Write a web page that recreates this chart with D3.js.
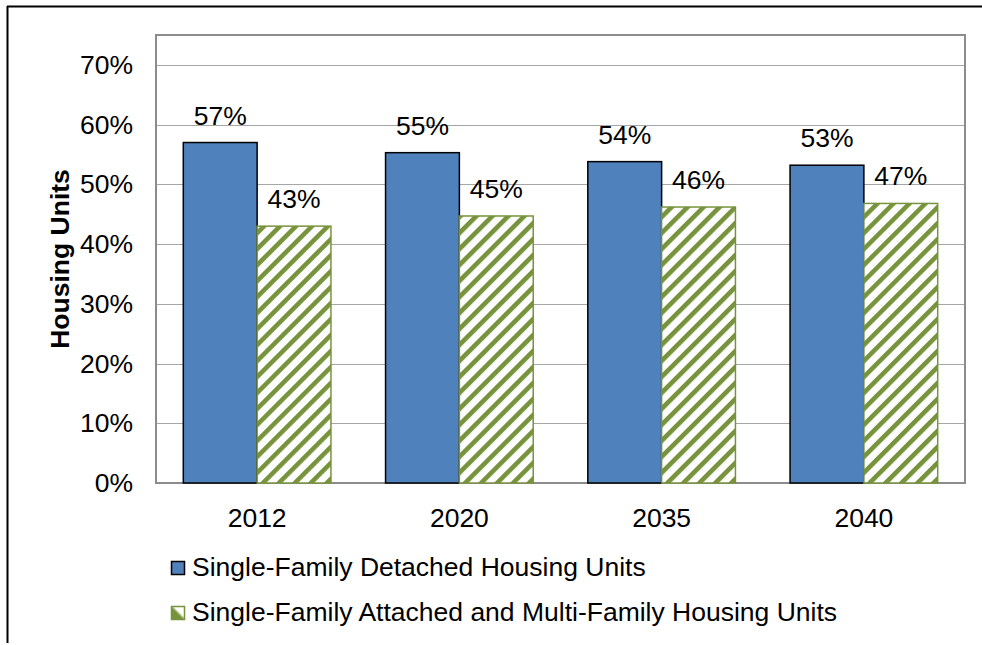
<!DOCTYPE html>
<html>
<head>
<meta charset="utf-8">
<script src="https://cdn.jsdelivr.net/npm/d3@7"></script>
<style>
  html, body { margin: 0; padding: 0; background: #fff; }
  svg { display: block; font-family: "Liberation Sans", Arial, sans-serif; }
</style>
</head>
<body>
<svg id="chart" width="982" height="645"></svg>
<script>
// Share of housing units by type, by year
const years = ["2012", "2020", "2035", "2040"];
const detached = [0.570, 0.553, 0.538, 0.532];
const attachedMulti = [0.430, 0.447, 0.462, 0.468];
const seriesNames = [
  "Single-Family Detached Housing Units",
  "Single-Family Attached and Multi-Family Housing Units"
];
const yTicks = [0, 0.1, 0.2, 0.3, 0.4, 0.5, 0.6, 0.7];

const svg = d3.select("#chart");
const W = 982, H = 645;
const plot = { left: 156, top: 35, right: 965, bottom: 483 };
const FS = 26.5;

const blue = "#4F81BD";
const green = "#77933C";

// diagonal hatch for the second series
const defs = svg.append("defs");
const pat = defs.append("pattern")
  .attr("id", "hatch")
  .attr("patternUnits", "userSpaceOnUse")
  .attr("width", 11.3).attr("height", 11.3)
  .attr("patternTransform", "rotate(45)");
pat.append("rect").attr("width", 11.3).attr("height", 11.3).attr("fill", "#fff");
pat.append("rect").attr("x", 0).attr("width", 4.6).attr("height", 11.3).attr("fill", green);

// soft diagonal fill used by the legend swatch
const grad = defs.append("linearGradient")
  .attr("id", "swatchGrad")
  .attr("x1", 0).attr("y1", 1).attr("x2", 1).attr("y2", 0);
grad.append("stop").attr("offset", "0%").attr("stop-color", green);
grad.append("stop").attr("offset", "45%").attr("stop-color", green);
grad.append("stop").attr("offset", "60%").attr("stop-color", "#fff");
grad.append("stop").attr("offset", "100%").attr("stop-color", "#fff");

// outer frame (top and left edges)
svg.append("line").attr("x1", 7).attr("y1", 6.5).attr("x2", W).attr("y2", 6.5)
  .attr("stroke", "#000").attr("stroke-width", 2);
svg.append("line").attr("x1", 7.5).attr("y1", 6).attr("x2", 7.5).attr("y2", 643)
  .attr("stroke", "#000").attr("stroke-width", 2);

const x0 = d3.scaleBand().domain(years).range([plot.left, plot.right]).paddingInner(0.27).paddingOuter(0.135);
const x1 = d3.scaleBand().domain([0, 1]).range([0, x0.bandwidth()]);
const y = d3.scaleLinear().domain([0, 0.75]).range([plot.bottom, plot.top]);

// gridlines
svg.append("g").selectAll("line").data(yTicks.slice(1)).join("line")
  .attr("x1", plot.left).attr("x2", plot.right)
  .attr("y1", d => Math.round(y(d)) + 0.5).attr("y2", d => Math.round(y(d)) + 0.5)
  .attr("stroke", "#A6A6A6").attr("stroke-width", 1);

// plot area border
svg.append("rect")
  .attr("x", plot.left).attr("y", plot.top)
  .attr("width", plot.right - plot.left).attr("height", plot.bottom - plot.top)
  .attr("fill", "none").attr("stroke", "#8C8C8C").attr("stroke-width", 2);

// y axis labels
const yAxis = d3.axisLeft(y).tickValues(yTicks).tickFormat(d3.format(".0%")).tickSize(0).tickPadding(23);
const gy = svg.append("g").attr("transform", `translate(${plot.left},0)`).call(yAxis);
gy.select(".domain").remove();
gy.selectAll("text").attr("font-size", FS).attr("fill", "#000")
  .attr("font-family", "Liberation Sans, Arial, sans-serif");

// x axis labels
const xAxis = d3.axisBottom(x0).tickSize(0).tickPadding(0);
const gx = svg.append("g").attr("transform", `translate(0,${plot.bottom})`).call(xAxis);
gx.select(".domain").remove();
gx.selectAll("text").attr("font-size", FS).attr("fill", "#000")
  .attr("font-family", "Liberation Sans, Arial, sans-serif")
  .attr("dy", null).attr("y", 44);

// axis title
svg.append("text")
  .attr("transform", `translate(69,${(plot.top + plot.bottom) / 2}) rotate(-90)`)
  .attr("text-anchor", "middle")
  .attr("font-size", 26.5).attr("font-weight", "bold")
  .text("Housing Units");

// bars
const rows = years.map((yr, i) => ({ yr, vals: [detached[i], attachedMulti[i]] }));
const groups = svg.append("g").selectAll("g").data(rows).join("g")
  .attr("transform", d => `translate(${x0(d.yr)},0)`);

groups.selectAll("rect").data(d => d.vals.map((v, k) => ({ v, k }))).join("rect")
  .attr("x", d => x1(d.k))
  .attr("y", d => y(d.v))
  .attr("width", x1.bandwidth())
  .attr("height", d => y(0) - y(d.v))
  .attr("fill", d => d.k === 0 ? blue : "url(#hatch)")
  .attr("stroke", d => d.k === 0 ? "#000" : green)
  .attr("stroke-width", 1.5);

groups.selectAll("text.val").data(d => d.vals.map((v, k) => ({ v, k }))).join("text")
  .attr("class", "val")
  .attr("x", d => x1(d.k) + x1.bandwidth() / 2)
  .attr("y", d => y(d.v) - 18)
  .attr("text-anchor", "middle")
  .attr("font-size", FS)
  .text(d => d3.format(".0%")(d.v));

// legend
const legend = svg.append("g").selectAll("g").data(seriesNames).join("g")
  .attr("transform", (d, i) => `translate(171,${561 + i * 45})`);
legend.append("rect")
  .attr("x", 0.5).attr("y", 0.5).attr("width", 13).attr("height", 13)
  .attr("fill", (d, i) => i === 0 ? blue : "url(#swatchGrad)")
  .attr("stroke", (d, i) => i === 0 ? "#000" : green)
  .attr("stroke-width", 1.5);
legend.append("text")
  .attr("x", 21).attr("y", 15)
  .attr("font-size", FS)
  .text(d => d);
</script>
</body>
</html>
